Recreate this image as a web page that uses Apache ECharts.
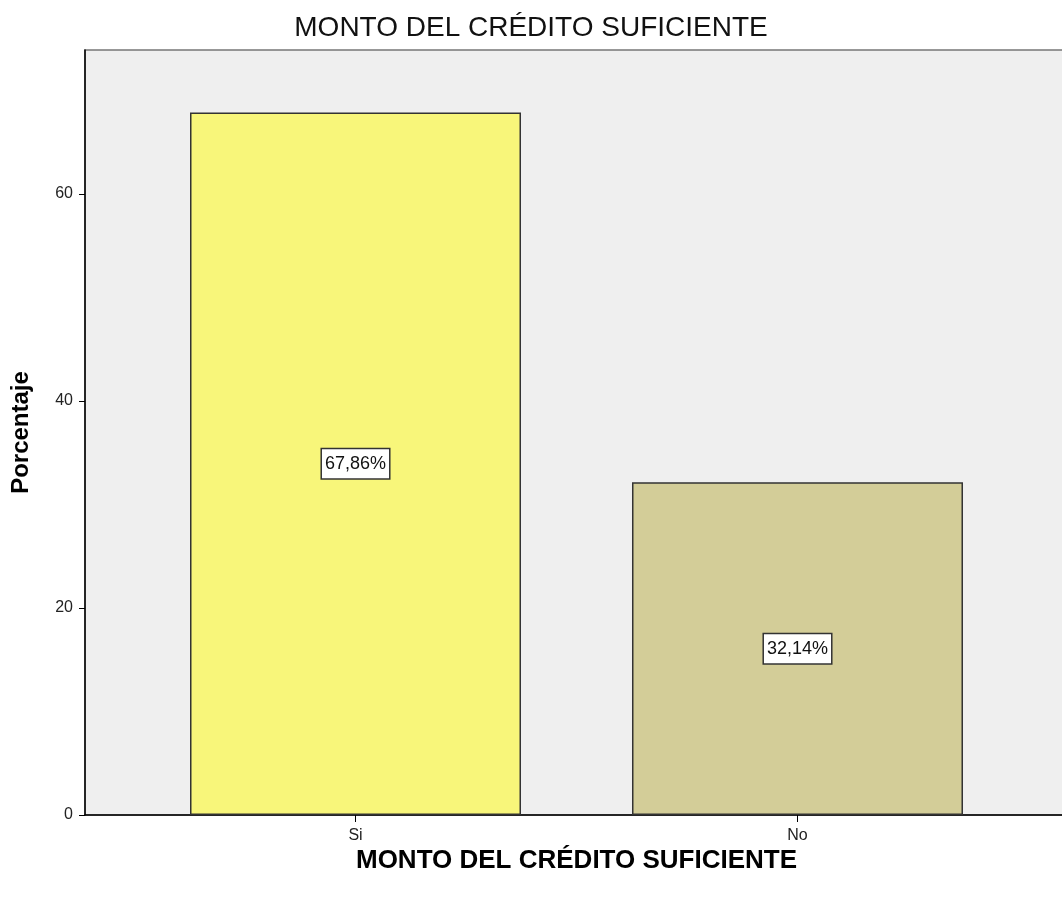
<!DOCTYPE html>
<html>
<head>
<meta charset="utf-8">
<script src="https://cdn.jsdelivr.net/npm/echarts@6/dist/echarts.min.js"></script>
<style>
  html, body { margin: 0; padding: 0; background: #fff; }
  #chart { width: 1062px; height: 899px; }
</style>
</head>
<body>
<div id="chart"></div>
<script>
// datos
const categories = ["Si", "No"];
const percentages = [67.86, 32.14];
const barColors = ["#F8F67A", "#D3CD98"];
const yTicks = [0, 20, 40, 60];

const myChart = echarts.init(document.getElementById("chart"));

const fmtPct = v => v.toFixed(2).replace(".", ",") + "%";

const option = {
  backgroundColor: "#fff",
  animation: false,
  title: {
    text: "MONTO DEL CRÉDITO SUFICIENTE",
    left: "center",
    top: 9,
    textStyle: {
      fontFamily: "Liberation Sans",
      fontSize: 28,
      fontWeight: "normal",
      color: "#111"
    }
  },
  grid: {
    left: 85,
    top: 50,
    right: -6,
    bottom: 84,
    outerBoundsMode: "none",
    containLabel: false,
    show: true,
    backgroundColor: "#EFEFEF",
    borderColor: "#777",
    borderWidth: 1.5
  },
  xAxis: {
    type: "value",
    min: -0.612,
    max: 1.612,
    name: "MONTO DEL CRÉDITO SUFICIENTE",
    nameLocation: "middle",
    nameGap: 33,
    nameMoveOverlap: false,
    nameTextStyle: {
      fontFamily: "Liberation Sans",
      fontSize: 26,
      fontWeight: "bold",
      color: "#000"
    },
    splitLine: { show: false },
    axisLine: { show: true, onZero: false, lineStyle: { color: "#000", width: 1.5 } },
    axisTick: {
      show: true,
      customValues: [0, 1],
      length: 7,
      lineStyle: { color: "#000" }
    },
    axisLabel: {
      customValues: [0, 1],
      formatter: v => categories[Math.round(v)],
      fontFamily: "Liberation Sans",
      fontSize: 16,
      color: "#222",
      margin: 13
    }
  },
  yAxis: {
    type: "value",
    min: 0,
    max: 73.9,
    interval: 20,
    name: "Porcentaje",
    nameLocation: "middle",
    nameGap: 52,
    nameMoveOverlap: false,
    nameTextStyle: {
      fontFamily: "Liberation Sans",
      fontSize: 24,
      fontWeight: "bold",
      color: "#000"
    },
    splitLine: { show: false },
    axisLine: { show: true, onZero: false, lineStyle: { color: "#000", width: 1.5 } },
    axisTick: { show: true, length: 6, lineStyle: { color: "#000" } },
    axisLabel: {
      fontFamily: "Liberation Sans",
      fontSize: 16,
      color: "#222",
      margin: 12,
      showMaxLabel: false
    }
  },
  series: [
    {
      type: "bar",
      barWidth: 331,
      data: percentages.map((v, i) => ({
        value: [i, v],
        itemStyle: { color: barColors[i] }
      })),
      itemStyle: {
        borderColor: "#333",
        borderWidth: 1.5
      },
      label: {
        show: true,
        position: "inside",
        formatter: p => fmtPct(p.value[1]),
        fontFamily: "Liberation Sans",
        fontSize: 18,
        color: "#111",
        backgroundColor: "#fff",
        borderColor: "#333",
        borderWidth: 1.5,
        padding: [6, 3, 5, 3]
      }
    }
  ]
};

option && myChart.setOption(option);
</script>
</body>
</html>
